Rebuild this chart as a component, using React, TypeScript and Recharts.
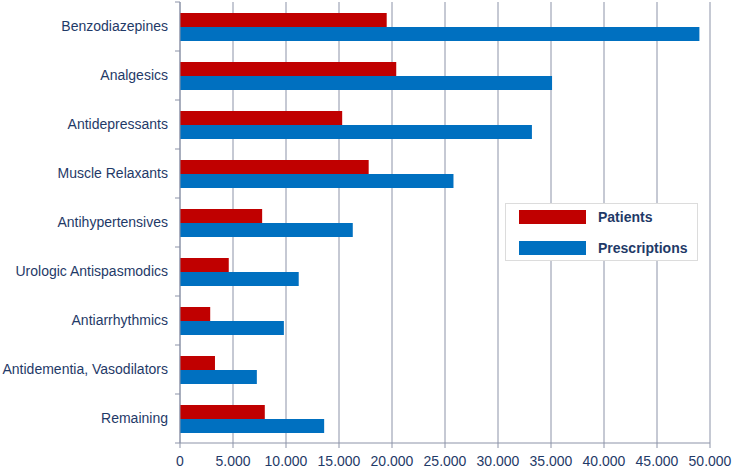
import { BarChart, Bar, XAxis, YAxis, CartesianGrid } from "recharts";

const categories = [
  "Benzodiazepines",
  "Analgesics",
  "Antidepressants",
  "Muscle Relaxants",
  "Antihypertensives",
  "Urologic Antispasmodics",
  "Antiarrhythmics",
  "Antidementia, Vasodilators",
  "Remaining",
];
const patients = [19500, 20400, 15300, 17800, 7750, 4600, 2850, 3300, 8000];
const prescriptions = [49000, 35100, 33200, 25800, 16300, 11200, 9800, 7250, 13600];
const xTicks = [0, 5000, 10000, 15000, 20000, 25000, 30000, 35000, 40000, 45000, 50000];

const data = categories.map((name, i) => ({
  name,
  patients: patients[i],
  prescriptions: prescriptions[i],
}));

const TEXT = "#1F3A68";
const AXIS = "#8C93A8";
const RED = "#C00000";
const BLUE = "#0070C0";
const FONT = "'Liberation Sans', Arial, sans-serif";

const fmt = (v: number) => (v === 0 ? "0" : v.toLocaleString("de-DE"));

// category ticks: label in the middle of the band, tick marks on the band edges (Excel style)
const CatTick = (props: any) => {
  const { x, y, payload, index } = props;
  const half = 24.5;
  return (
    <g>
      <line x1={x + 7} x2={x + 12} y1={y - half} y2={y - half} stroke={AXIS} />
      {index === categories.length - 1 && (
        <line x1={x + 7} x2={x + 12} y1={y + half} y2={y + half} stroke={AXIS} />
      )}
      <text x={x} y={y} dy="0.35em" textAnchor="end" fill={TEXT} fontSize={14} fontFamily={FONT}>
        {payload.value}
      </text>
    </g>
  );
};

const LegendBox = () => (
  <div
    style={{
      position: "absolute",
      left: 505,
      top: 203,
      width: 193,
      height: 58,
      border: "1px solid #dcdcdc",
      background: "#fff",
      boxSizing: "border-box",
      fontFamily: FONT,
      fontWeight: "bold",
      fontSize: 14,
      color: TEXT,
    }}
  >
    <div style={{ position: "absolute", left: 13, top: 6, width: 67, height: 14, background: RED }} />
    <div style={{ position: "absolute", left: 92, top: 4, lineHeight: "18px" }}>Patients</div>
    <div style={{ position: "absolute", left: 13, top: 37, width: 67, height: 14, background: BLUE }} />
    <div style={{ position: "absolute", left: 92, top: 35, lineHeight: "18px" }}>Prescriptions</div>
  </div>
);

export default function App() {
  return (
    <div style={{ position: "absolute", left: 0, top: 0, width: 733, height: 468, background: "#fff" }}>
      <BarChart
        width={733}
        height={468}
        data={data}
        layout="vertical"
        margin={{ top: 2, right: 23, bottom: 0, left: 0 }}
        barGap={0}
      >
        <CartesianGrid horizontal={false} stroke={AXIS} strokeWidth={1} />
        <XAxis
          type="number"
          domain={[0, 50000]}
          ticks={xTicks}
          tickFormatter={fmt}
          interval={0}
          height={25}
          stroke={AXIS}
          tickSize={5}
          tickMargin={8}
          tick={{ fill: TEXT, fontSize: 14, fontFamily: FONT }}
        />
        <YAxis
          type="category"
          dataKey="name"
          width={180}
          stroke={AXIS}
          tickLine={false}
          tickSize={5}
          tickMargin={7}
          interval={0}
          tick={<CatTick />}
        />
        <Bar dataKey="patients" name="Patients" fill={RED} barSize={14} isAnimationActive={false} />
        <Bar dataKey="prescriptions" name="Prescriptions" fill={BLUE} barSize={14} isAnimationActive={false} />
      </BarChart>
      <LegendBox />
    </div>
  );
}
